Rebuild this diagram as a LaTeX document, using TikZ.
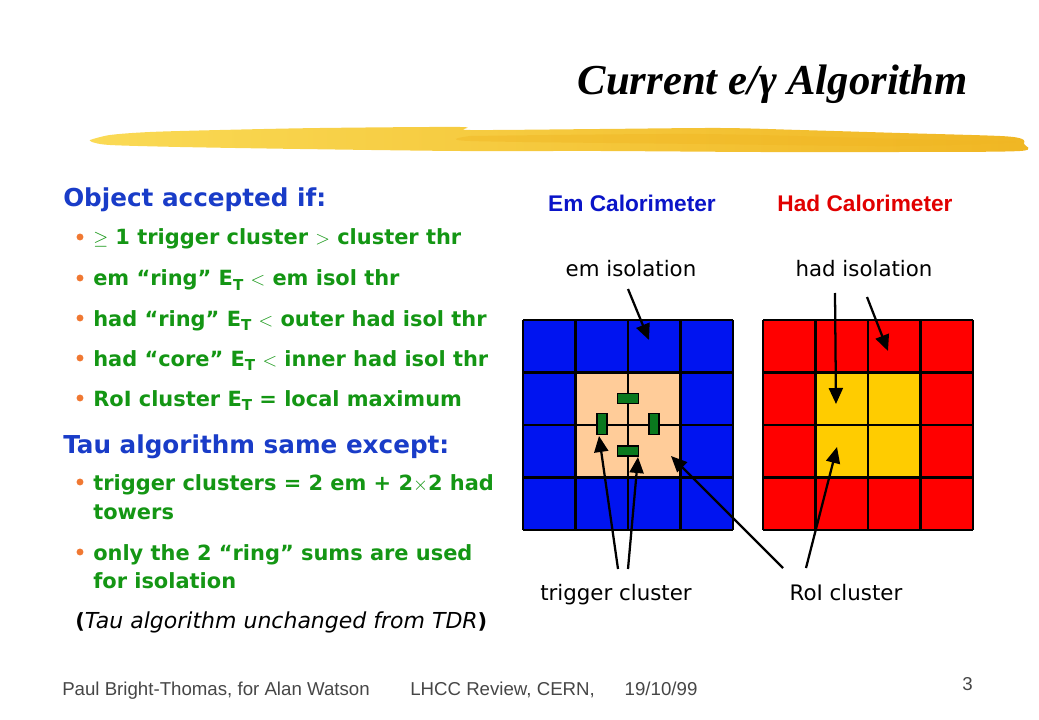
\documentclass[tikz,border=0pt]{standalone}
\usepackage{fontspec}
\setmainfont{Liberation Serif}
\newfontfamily\comicf{DejaVu Sans}
\newfontfamily\arialf{Liberation Sans}
\usetikzlibrary{arrows.meta}
\definecolor{hdblue}{RGB}{25,60,200}
\definecolor{txtgreen}{RGB}{20,150,20}
\definecolor{bulorange}{RGB}{240,120,50}
\definecolor{emblue}{RGB}{10,20,200}
\definecolor{hadred}{RGB}{225,0,0}
\definecolor{cellblue}{RGB}{0,20,240}
\definecolor{peach}{RGB}{255,204,153}
\definecolor{cellred}{RGB}{255,0,0}
\definecolor{gold}{RGB}{255,204,0}
\definecolor{bargreen}{RGB}{10,120,30}
\definecolor{brushA}{RGB}{250,218,85}
\definecolor{brushB}{RGB}{240,182,35}
\definecolor{footgray}{RGB}{70,70,70}
\newcommand{\ETsub}{E\raisebox{-0.35ex}{\scalebox{0.72}{T}}}
\tikzset{
 hdr/.style={font=\comicf\bfseries\fontsize{18.5pt}{22pt}\selectfont, text=hdblue, inner sep=0pt, anchor=base west},
 bul/.style={font=\comicf\bfseries\fontsize{15.7pt}{18pt}\selectfont, text=txtgreen, inner sep=0pt, anchor=base west},
 lab/.style={font=\comicf\fontsize{16pt}{18pt}\selectfont, inner sep=0pt, anchor=base},
 cal/.style={font=\arialf\bfseries\fontsize{17pt}{20pt}\selectfont, inner sep=0pt, anchor=base},
 foot/.style={font=\arialf\fontsize{14pt}{16pt}\selectfont, text=footgray, inner sep=0pt, anchor=base west},
 arr/.style={line width=1.7pt, -{Triangle[length=12pt,width=10.5pt]}},
 gl/.style={line width=1.8pt},
 bar/.style={draw=black, line width=0.9pt, fill=bargreen, inner sep=0pt},
 dot/.style={fill=bulorange},
}
\begin{document}
\begin{tikzpicture}[x=0.75pt,y=-0.75pt]
\useasboundingbox (0,0) rectangle (1039,720);
% brush stroke
\shade[left color=brushA, right color=brushB]
 plot[smooth] coordinates {(90,140) (110,135) (150,132) (220,130) (320,128) (460,127) (470,130) (600,129) (720,128) (800,130) (900,133) (1000,136) (1022,139) (1024,144) (1020,151) (900,152) (760,152) (600,151) (460,151) (300,149) (180,147) (110,145) (92,142) (90,140)};
\fill[brushB, opacity=0.45] plot[smooth] coordinates {(470,136) (700,134) (900,139) (1015,142) (900,146) (700,144) (470,141) (470,136)};
% title
\node[anchor=base east, inner sep=0pt, font=\fontsize{32pt}{35pt}\selectfont\bfseries\itshape] (title) at (968,95) {Current e/γ Algorithm};
% left text
\node[hdr] (h1) at (63,207) {Object accepted if:};
\node[bul] (b1) at (93,245) {$\geq$ 1 trigger cluster $>$ cluster thr};
\node[bul] (b2) at (93,286) {em “ring” \ETsub{} $<$ em isol thr};
\node[bul] (b3) at (93,326) {had “ring” \ETsub{} $<$ outer had isol thr};
\node[bul] (b4) at (93,366) {had “core” \ETsub{} $<$ inner had isol thr};
\node[bul] (b5) at (93,406) {RoI cluster \ETsub{} = local maximum};
\node[hdr] (h2) at (63,453) {Tau algorithm same except:};
\node[bul] (b6) at (93,490) {trigger clusters = 2 em + 2$\times$2 had};
\node[bul] (b6b) at (93,519) {towers};
\node[bul] (b7) at (93,560) {only the 2 “ring” sums are used};
\node[bul] (b7b) at (93,588) {for isolation};
\node[bul, text=black] (b8) at (75,628) {(\textmd{\itshape\fontsize{16.5pt}{18pt}\selectfont Tau algorithm unchanged from TDR})};
\foreach \yy in {237,278,318,358,398,482,552} \fill[dot] (80,\yy) circle (2.6pt);
% calorimeter titles
\node[cal, text=emblue] (emcal) at (632,212) {Em Calorimeter};
\node[cal, text=hadred] (hadcal) at (865,212) {Had Calorimeter};
% labels
\node[lab] (emiso) at (631,277) {em isolation};
\node[lab] (hadiso) at (864,277) {had isolation};
\node[lab] (trig) at (616,600) {trigger cluster};
\node[lab] (roi) at (846,600) {RoI cluster};
% em grid
\fill[cellblue] (523,320) rectangle (733,530);
\fill[peach] (575.5,372.5) rectangle (680.5,477.5);
\foreach \k in {0,1,2,3,4} {
 \draw[gl] ({523+52.5*\k},320) -- ({523+52.5*\k},530);
 \draw[gl] (523,{320+52.5*\k}) -- (733,{320+52.5*\k});
}
% had grid
\fill[cellred] (763,320) rectangle (973,530);
\fill[gold] (815.5,372.5) rectangle (920.5,477.5);
\foreach \k in {0,1,2,3,4} {
 \draw[gl] ({763+52.5*\k},320) -- ({763+52.5*\k},530);
 \draw[gl] (763,{320+52.5*\k}) -- (973,{320+52.5*\k});
}
% green trigger bars
\node[bar, minimum width=15.75pt, minimum height=7.5pt] (bt) at (628,398.5) {};
\node[bar, minimum width=15.75pt, minimum height=7.5pt] (bb) at (628,451) {};
\node[bar, minimum width=7.5pt, minimum height=15.75pt] (bl) at (602,424) {};
\node[bar, minimum width=7.5pt, minimum height=15.75pt] (br) at (654,424) {};
% arrow coordinates
\coordinate (emS) at (628,289);
\coordinate (emT) at (649,340);
\coordinate (hvS) at (835,293);
\coordinate (hvT) at (836,404);
\coordinate (hsS) at (867,297);
\coordinate (hsT) at (888,351);
\coordinate (t1S) at (618,569);
\coordinate (t1T) at (599,436);
\coordinate (t2S) at (628,569);
\coordinate (t2T) at (638,457);
\coordinate (r1S) at (783,568);
\coordinate (r1T) at (671,456);
\coordinate (r2S) at (806,568);
\coordinate (r2T) at (837,447);
\draw[arr] (emS) -- (emT);
\draw[arr] (hvS) -- (hvT);
\draw[arr] (hsS) -- (hsT);
\draw[arr] (t1S) -- (t1T);
\draw[arr] (t2S) -- (t2T);
\draw[arr] (r1S) -- (r1T);
\draw[arr] (r2S) -- (r2T);
% footer
\node[foot] (f1) at (62,695) {Paul Bright-Thomas, for Alan Watson};
\node[foot] (f2) at (410,695) {LHCC Review, CERN,\hspace{1.6em}19/10/99};
\node[foot] (f3) at (962,690) {3};
\end{tikzpicture}
\end{document}
